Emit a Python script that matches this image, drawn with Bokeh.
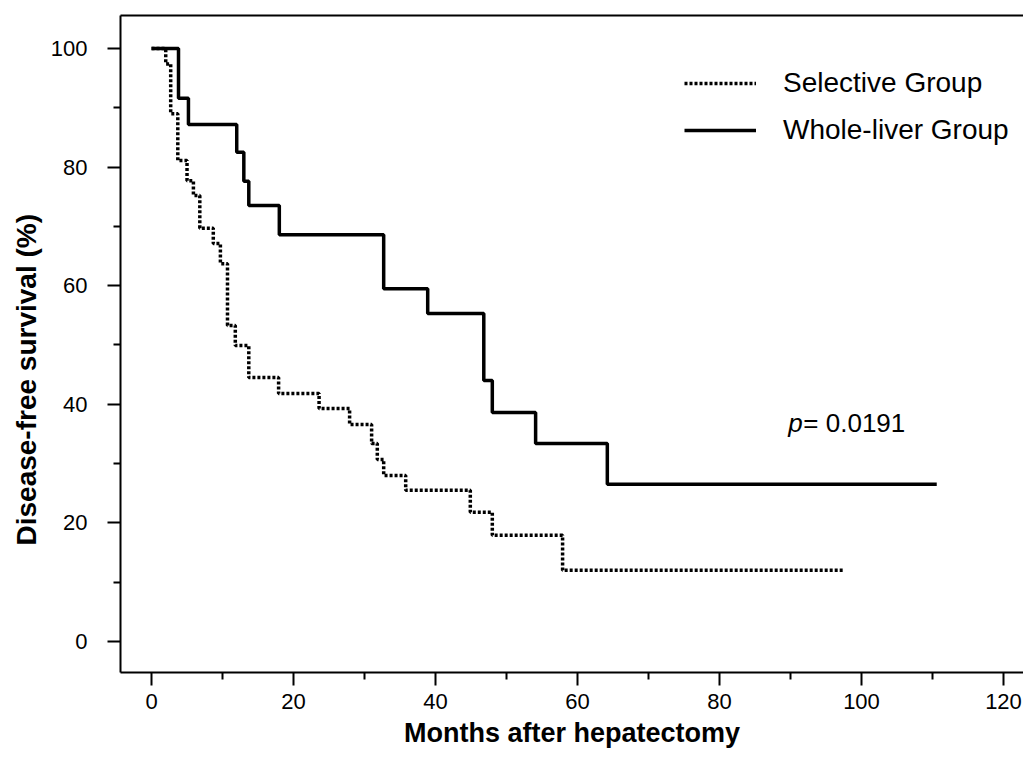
from bokeh.plotting import figure
from bokeh.models import Range1d, FixedTicker, LinearAxis, Legend, LegendItem, Label, Title
from bokeh.embed import file_html
from bokeh.resources import INLINE

# ---- data ----
sel_months = [0, 2.0, 2.7, 3.7, 5.0, 5.9, 6.8, 8.7, 9.7, 10.7, 11.8, 13.7, 17.9,
              23.6, 27.9, 31.0, 31.8, 32.7, 35.8, 44.9, 48.0, 57.9, 97.5]
sel_surv = [100, 97.4, 89.0, 81.1, 77.7, 75.2, 69.7, 67.1, 63.7, 53.3, 49.9, 44.5, 41.8,
            39.3, 36.6, 33.4, 30.7, 28.0, 25.5, 21.8, 17.9, 12.0, 12.0]

whole_months = [0, 3.8, 5.2, 12.0, 13.0, 13.7, 18.0, 32.7, 38.9, 46.8, 48.0, 54.1, 64.2, 110.6]
whole_surv = [100, 91.6, 87.2, 82.5, 77.6, 73.5, 68.6, 59.5, 55.3, 44.0, 38.6, 33.4, 26.5, 26.5]

x_major = [0, 20, 40, 60, 80, 100, 120]
x_minor = [10, 30, 50, 70, 90, 110]
y_major = [0, 20, 40, 60, 80, 100]
y_minor = [10, 30, 50, 70, 90]

legend_labels = ["Selective Group", "Whole-liver Group"]
p_symbol = "p"
p_rest = "= 0.0191"
x_title = "Months after hepatectomy"
y_title = "Disease-free survival (%)"

FONT = "Liberation Sans"
INK = "#000000"

p = figure(width=1023, height=758,
           x_range=Range1d(-4.37, 122.82), y_range=Range1d(-5.23, 105.56),
           output_backend="svg", toolbar_location=None,
           min_border_left=120, min_border_top=15, min_border_bottom=86, min_border_right=0)
p.outline_line_color = None
p.xgrid.grid_line_color = None
p.ygrid.grid_line_color = None
p.background_fill_color = "white"
p.border_fill_color = "white"

# axes styling
for ax in (p.xaxis[0], p.yaxis[0]):
    ax.axis_line_color = INK
    ax.axis_line_width = 2
    ax.major_tick_line_color = INK
    ax.major_tick_line_width = 2
    ax.minor_tick_line_color = INK
    ax.minor_tick_line_width = 2
    ax.major_tick_in = 0
    ax.minor_tick_in = 0
    ax.major_tick_out = 13
    ax.minor_tick_out = 7
    ax.major_label_text_font = FONT
    ax.major_label_text_font_size = "22px"
    ax.major_label_text_color = INK
    ax.axis_label_text_font = FONT
    ax.axis_label_text_font_style = "bold"
    ax.axis_label_text_color = INK

p.xaxis[0].ticker = FixedTicker(ticks=x_major, minor_ticks=x_minor)
p.yaxis[0].ticker = FixedTicker(ticks=y_major, minor_ticks=y_minor)
p.xaxis[0].axis_label = x_title
p.xaxis[0].axis_label_text_font_size = "27px"
p.xaxis[0].major_label_standoff = 8
p.xaxis[0].axis_label_standoff = 6
p.yaxis[0].major_label_standoff = 20

# y-axis title, placed along the left side (lower than the frame centre, as in the reference)
p.add_layout(Title(text=y_title, align="left", offset=127, text_font=FONT,
                   text_font_size="28px", text_font_style="bold", text_color=INK,
                   standoff=12), "left")

# top border line
top = LinearAxis(ticker=FixedTicker(ticks=[]), axis_line_color=INK, axis_line_width=2,
                 major_tick_line_color=None, minor_tick_line_color=None)
p.add_layout(top, "above")

# survival curves
r_sel = p.step(sel_months, sel_surv, mode="after", line_color=INK, line_width=3.5,
               line_dash="3 2")
r_whole = p.step(whole_months, whole_surv, mode="after", line_color=INK, line_width=3.5)

legend = Legend(items=[LegendItem(label=legend_labels[0], renderers=[r_sel]),
                       LegendItem(label=legend_labels[1], renderers=[r_whole])],
                location=(564, 526), glyph_width=72, glyph_height=20, label_standoff=27,
                spacing=15, padding=0, margin=0, border_line_color=None,
                background_fill_alpha=0, label_text_font=FONT, label_text_font_size="28px",
                label_text_color=INK)
p.add_layout(legend)

# p-value
p.add_layout(Label(x=89.7, y=36.8, text=p_symbol, text_font=FONT, text_font_size="26px",
                   text_font_style="italic", text_baseline="alphabetic", text_color=INK))
p.add_layout(Label(x=89.7, y=36.8, x_offset=15, text=p_rest, text_font=FONT,
                   text_font_size="26px", text_baseline="alphabetic", text_color=INK))

open("out.html", "w").write(file_html(p, INLINE))
